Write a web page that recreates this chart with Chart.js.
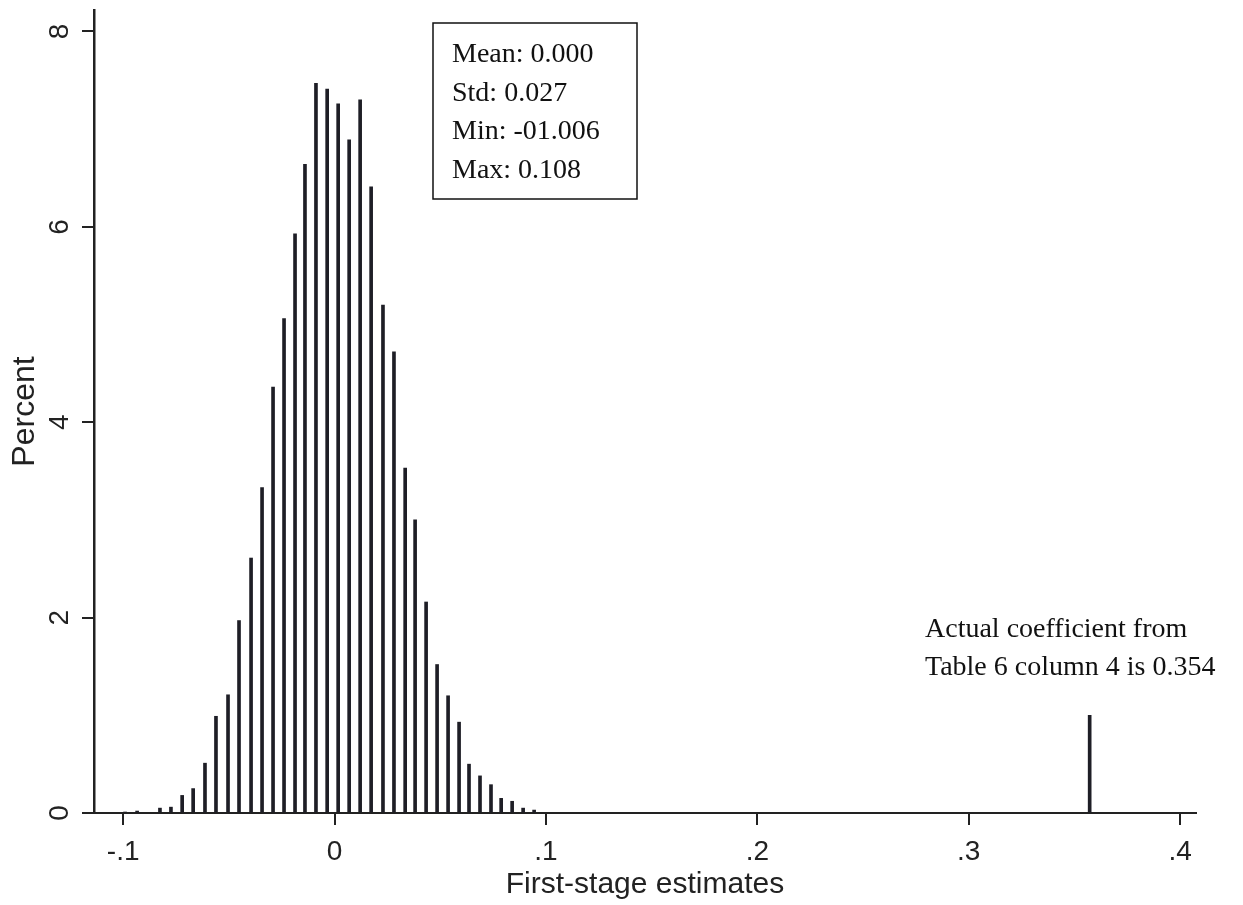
<!DOCTYPE html>
<html>
<head>
  <meta charset="utf-8">
  <title>First-stage estimates histogram</title>
  <script src="https://cdn.jsdelivr.net/npm/chart.js"></script>
  <style>
    body {
      margin: 0;
      background: #fff;
    }
    #chartContainer {
      width: 1243px;
      height: 905px;
    }
  </style>
</head>
<body>
  <div id="chartContainer">
    <canvas id="myChart" width="1243" height="905"></canvas>
  </div>
  <script>
    // bin centres (first-stage estimates) and bar heights (percent)
    const binCentres = [
      -0.0991, -0.0934, -0.0826, -0.0774, -0.0721, -0.0669, -0.0613, -0.0561,
      -0.0504, -0.0452, -0.0395, -0.0343, -0.0291, -0.0239, -0.0187, -0.0140,
      -0.0088, -0.0035, 0.0017, 0.0069, 0.0121, 0.0173, 0.0229, 0.0281,
      0.0334, 0.0381, 0.0433, 0.0485, 0.0537, 0.0589, 0.0636, 0.0688,
      0.0740, 0.0788, 0.0840, 0.0892, 0.0944, 0.3572
    ];
    const percents = [
      0.01, 0.02, 0.05, 0.06, 0.18, 0.25, 0.51, 0.99,
      1.21, 1.97, 2.61, 3.33, 4.36, 5.06, 5.93, 6.64,
      7.47, 7.41, 7.26, 6.89, 7.30, 6.41, 5.20, 4.72,
      3.53, 3.00, 2.16, 1.52, 1.20, 0.93, 0.50, 0.38,
      0.29, 0.15, 0.12, 0.05, 0.03, 1.00
    ];

    const xTicks = [-0.1, 0, 0.1, 0.2, 0.3, 0.4];
    const xTickLabels = ['-.1', '0', '.1', '.2', '.3', '.4'];
    const yTicks = [0, 2, 4, 6, 8];
    const yTickLabels = ['0', '2', '4', '6', '8'];

    const statsLines = ['Mean: 0.000', 'Std: 0.027', 'Min: -01.006', 'Max: 0.108'];
    const noteLines = ['Actual coefficient from', 'Table 6 column 4 is 0.354'];

    const sansFont = '"Liberation Sans", Arial, sans-serif';
    const serifFont = '"Liberation Serif", "Times New Roman", serif';
    const ink = '#222';

    // rotated y tick labels plus the two text annotations
    const extrasPlugin = {
      id: 'extras',
      afterDraw(chart) {
        const ctx = chart.ctx;
        const yScale = chart.scales.y;
        ctx.save();
        ctx.fillStyle = ink;
        ctx.font = '28px ' + sansFont;
        ctx.textAlign = 'center';
        ctx.textBaseline = 'middle';
        yScale.ticks.forEach((t, i) => {
          const py = yScale.getPixelForValue(t.value);
          ctx.save();
          ctx.translate(60, py);
          ctx.rotate(-Math.PI / 2);
          ctx.fillText(yTickLabels[i], 0, 0);
          ctx.restore();
        });

        // stats box
        ctx.strokeStyle = '#111';
        ctx.lineWidth = 1.5;
        ctx.strokeRect(433, 23, 204, 176);
        ctx.font = '28px ' + serifFont;
        ctx.textAlign = 'left';
        ctx.textBaseline = 'alphabetic';
        ctx.fillStyle = '#111';
        statsLines.forEach((line, i) => {
          ctx.fillText(line, 452, 62 + i * 38.5);
        });

        // note above the actual coefficient
        noteLines.forEach((line, i) => {
          ctx.fillText(line, 925, 637 + i * 38);
        });
        ctx.restore();
      }
    };

    const ctx = document.getElementById('myChart').getContext('2d');
    const chart = new Chart(ctx, {
      type: 'bar',
      data: {
        datasets: [{
          data: binCentres.map((x, i) => ({ x: x, y: percents[i] })),
          backgroundColor: '#1e1e26',
          borderWidth: 0,
          barThickness: 3
        }]
      },
      options: {
        responsive: false,
        animation: false,
        layout: {
          padding: { top: 10, right: 47, left: 0, bottom: 0 }
        },
        plugins: {
          legend: { display: false },
          tooltip: { enabled: false }
        },
        scales: {
          x: {
            type: 'linear',
            offset: false,
            min: -0.1138,
            max: 0.4075,
            afterBuildTicks: scale => {
              scale.ticks = xTicks.map(v => ({ value: v }));
            },
            afterFit: scale => {
              scale.height = 92;
            },
            ticks: {
              color: ink,
              font: { family: sansFont, size: 28 },
              padding: 10,
              maxRotation: 0,
              autoSkip: false,
              callback: (value, index) => xTickLabels[index]
            },
            grid: {
              display: true,
              offset: false,
              drawOnChartArea: false,
              drawTicks: true,
              tickLength: 12,
              color: ink,
              lineWidth: 2
            },
            border: { display: true, color: ink, width: 2 },
            title: {
              display: true,
              text: 'First-stage estimates',
              color: ink,
              font: { family: sansFont, size: 30 },
              padding: { top: 0, bottom: 2 }
            }
          },
          y: {
            min: 0,
            max: 8.22,
            afterBuildTicks: scale => {
              scale.ticks = yTicks.map(v => ({ value: v }));
            },
            afterFit: scale => {
              scale.width = 94;
            },
            ticks: { display: false },
            grid: {
              display: true,
              offset: false,
              drawOnChartArea: false,
              drawTicks: true,
              tickLength: 12,
              color: ink,
              lineWidth: 2
            },
            border: { display: true, color: ink, width: 2.5 },
            title: {
              display: true,
              text: 'Percent',
              color: ink,
              font: { family: sansFont, size: 32 },
              padding: { top: 6, bottom: 0 }
            }
          }
        }
      },
      plugins: [extrasPlugin]
    });
  </script>
</body>
</html>
